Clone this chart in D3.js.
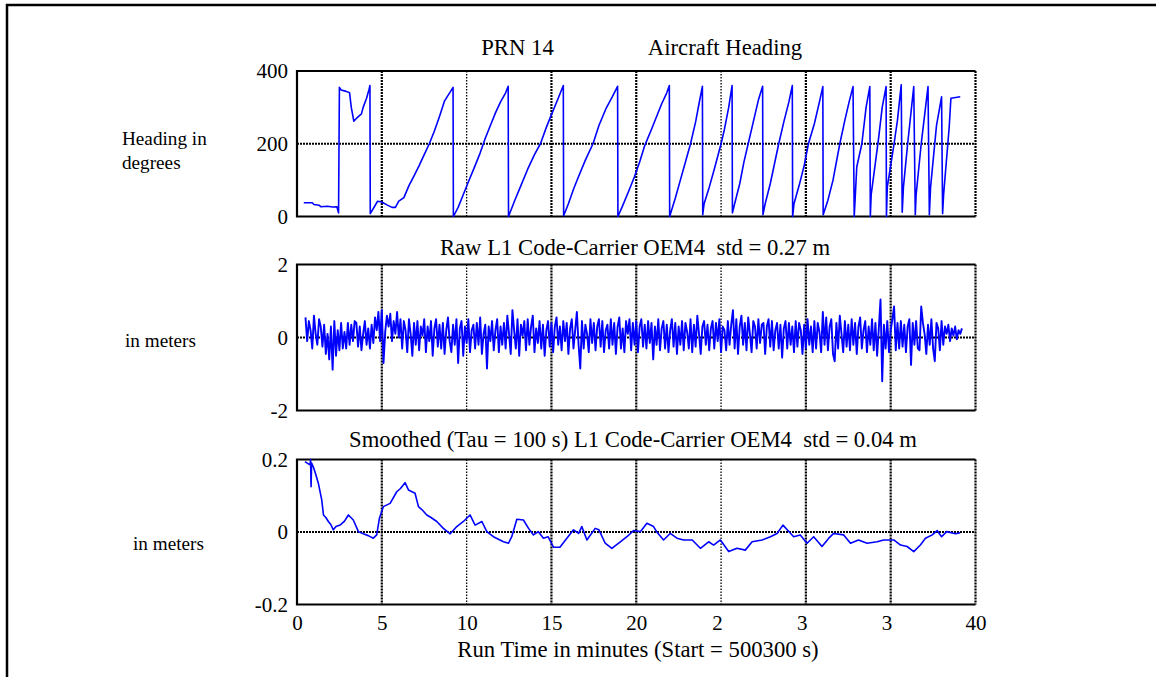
<!DOCTYPE html>
<html>
<head>
<meta charset="utf-8">
<script src="https://cdn.jsdelivr.net/npm/d3@7"></script>
<style>
body{margin:0;background:#fff;}
text{font-family:"Liberation Serif","Times New Roman",serif;font-size:21px;fill:#000;}
text.title{font-size:22.7px;}
text.side{font-size:19.2px;}
</style>
</head>
<body>
<svg id="chart" width="1156" height="677"></svg>
<script>
// x axis, run time in minutes
var xTicks = [0, 5, 10, 15, 20, 25, 30, 35, 40];
var xTickLabels = ["0", "5", "10", "15", "20", "2", "3", "3", "40"];
var faintGrid = [10, 25];

// y ticks of the three panels
var headingTicks = [0, 200, 400];
var headingTickLabels = ["0", "200", "400"];
var rawTicks = [-2, 0, 2];
var rawTickLabels = ["-2", "0", "2"];
var smoothTicks = [-0.2, 0, 0.2];
var smoothTickLabels = ["-0.2", "0", "0.2"];

// aircraft heading, [minutes, degrees]
var headingPts = [
 [0.4,38],[0.9,38],[1.0,33],[1.3,31],[1.4,27],[1.8,28],[2.1,26],[2.35,27],[2.45,10],[2.5,355],
 [2.6,348],[2.9,344],[3.1,340],[3.2,300],[3.35,262],[3.55,272],[3.8,282],[3.9,300],[4.1,325],[4.25,350],
 [4.3,360],[4.32,8],[4.5,22],[4.75,42],[5.0,40],[5.3,32],[5.6,25],[5.8,25],[6.0,42],[6.3,52],
 [6.6,85],[6.9,112],[7.2,140],[7.5,170],[7.8,200],[8.1,235],[8.4,275],[8.7,318],[9.0,340],[9.2,355],
 [9.22,0],[9.5,25],[9.8,60],[10.1,95],[10.5,140],[10.8,175],[11.1,215],[11.4,250],[11.7,285],[12.0,315],
 [12.3,340],[12.45,358],[12.47,0],[12.8,40],[13.2,85],[13.6,130],[14.0,170],[14.35,200],[14.7,245],[15.0,280],
 [15.4,325],[15.7,360],[15.72,2],[16.0,35],[16.3,75],[16.6,110],[17.0,155],[17.45,200],[17.8,250],[18.2,295],
 [18.6,330],[18.9,358],[18.92,0],[19.2,30],[19.6,75],[19.9,110],[20.2,150],[20.5,195],[20.9,240],[21.2,275],
 [21.5,310],[21.8,340],[21.95,360],[21.97,0],[22.3,50],[22.6,100],[22.9,150],[23.2,200],[23.5,260],[23.7,310],
 [23.9,358],[23.92,5],[24.0,35],[24.3,80],[24.6,130],[25.0,200],[25.2,240],[25.45,300],[25.65,360],[25.67,10],
 [25.8,35],[26.1,90],[26.35,150],[26.6,200],[26.9,260],[27.2,320],[27.45,358],[27.47,5],[27.6,35],[27.9,90],
 [28.15,145],[28.4,200],[28.7,260],[29.0,315],[29.2,360],[29.22,0],[29.3,35],[29.6,85],[29.9,140],[30.15,200],
 [30.5,255],[30.8,315],[31.0,357],[31.02,5],[31.3,45],[31.6,100],[32.0,200],[32.3,265],[32.55,315],[32.78,357],
 [32.85,0],[32.9,45],[33.0,136],[33.3,200],[33.55,300],[33.77,357],[33.8,0],[33.85,60],[34.1,148],[34.3,220],
 [34.5,300],[34.73,357],[34.75,0],[34.8,81],[35.2,200],[35.4,265],[35.62,362],[35.68,12],[35.75,80],[36.0,200],
 [36.36,357],[36.45,5],[36.5,60],[36.8,200],[37.2,357],[37.28,5],[37.35,80],[37.7,250],[38.0,329],[38.06,8],
 [38.12,60],[38.45,246],[38.55,325],[39.1,329]
];

// raw L1 code-carrier in meters, one sample every 0.1 min from 0.5 min
var rawStart = 0.5, rawStep = 0.1;
var rawVals = [
 0.55,-0.1,0.45,0.2,-0.3,0.6,0.1,-0.2,0.5,0.3,
 -0.25,0.35,-0.45,0.1,-0.6,0.3,-0.88,0.45,-0.5,0.2,
 -0.35,0.4,-0.3,0.15,-0.3,0.4,-0.2,0.35,-0.1,0.45,
 0.4,-0.25,0.3,-0.35,0.1,0.45,-0.2,0.25,-0.3,0.35,
 -0.15,0.55,0.2,0.7,-0.1,0.75,-0.7,0.15,0.6,0.3,
 0.65,-0.1,0.45,0.1,0.7,0.0,0.5,-0.3,0.45,0.2,
 -0.4,0.5,0.1,-0.5,0.4,-0.2,0.45,-0.35,0.3,0.05,
 0.5,-0.4,0.3,-0.1,0.45,-0.5,0.25,0.5,-0.25,0.35,
 -0.3,0.4,-0.45,0.2,0.55,-0.1,-0.4,0.35,-0.2,0.5,
 -0.7,0.25,0.45,-0.5,0.3,-0.15,0.5,-0.4,0.2,0.35,
 -0.3,0.4,-0.2,0.55,-0.45,0.1,0.35,-0.85,0.3,-0.1,
 0.45,-0.35,0.2,0.5,-0.4,0.3,-0.2,0.4,-0.3,0.6,
 0.1,-0.45,0.75,0.2,-0.3,0.5,-0.5,0.35,0.05,0.45,
 -0.35,0.5,-0.2,0.3,0.6,-0.4,0.25,-0.15,0.45,-0.3,
 0.35,-0.5,0.2,0.45,-0.25,0.4,-0.4,0.3,0.55,-0.2,
 0.3,-0.35,0.45,-0.1,0.4,-0.45,0.25,0.5,-0.3,0.2,
 0.7,-0.2,-0.85,0.45,-0.3,0.35,0.1,-0.4,0.5,-0.15,
 0.4,-0.35,0.3,0.5,-0.25,0.45,-0.4,0.2,0.35,-0.3,
 0.5,-0.2,0.4,-0.45,0.3,0.55,-0.3,0.25,-0.4,0.45,
 0.1,0.5,-0.35,0.4,-0.2,0.45,-0.4,0.3,0.5,-0.25,
 0.35,-0.3,0.45,-0.15,0.4,-0.6,0.3,-0.2,0.5,-0.35,
 0.25,0.45,-0.3,0.35,-0.4,0.2,0.5,-0.25,0.4,-0.45,
 0.3,-0.2,0.45,-0.35,0.4,0.15,-0.3,0.5,-0.4,0.35,
 -0.25,0.6,0.1,-0.45,0.3,0.45,-0.2,0.35,-0.35,0.25,
 0.45,-0.3,0.4,-0.1,0.5,-0.4,0.3,0.2,-0.35,0.45,
 -0.2,0.35,0.75,-0.3,0.5,-0.45,0.3,0.6,-0.2,0.4,
 -0.35,0.55,0.1,-0.4,0.45,0.3,-0.3,0.5,-0.15,0.35,
 0.4,-0.45,0.3,0.5,-0.25,0.45,-0.35,0.2,0.4,-0.3,
 0.35,-0.55,0.25,0.45,-0.3,0.4,-0.2,0.3,-0.4,0.45,
 -0.25,0.4,0.2,-0.45,0.35,-0.3,0.5,-0.2,0.3,-0.4,
 0.45,-0.3,0.4,0.15,-0.4,0.7,-0.2,0.55,-0.35,0.3,
 0.5,-0.45,-0.65,0.4,-0.3,0.6,0.1,-0.4,0.45,-0.25,
 0.35,-0.35,0.5,-0.2,0.4,-0.45,0.3,0.55,-0.3,0.2,
 0.45,-0.4,0.3,-0.2,0.5,-0.35,0.4,-0.5,0.25,1.04,
 -1.2,0.35,-0.3,0.45,-0.4,0.2,0.5,0.85,-0.35,0.4,
 -0.3,0.45,-0.25,0.35,-0.4,0.3,0.5,-0.75,0.4,-0.2,
 0.45,-0.3,-0.35,0.85,0.4,0.1,-0.45,0.35,-0.2,0.5,
 -0.3,-0.65,0.4,0.25,-0.35,0.45,-0.2,0.3,0.1,0.35,
 -0.1,0.25,0.05,0.3,-0.05,0.2,0.1,0.25
];

// smoothed (tau = 100 s) code-carrier, [minutes, meters]
var smoothPts = [
 [0.47,0.194],[0.6,0.19],[0.77,0.185],[0.8,0.2],[0.83,0.125],[0.86,0.19],[0.96,0.18],[1.1,0.16],[1.26,0.134],[1.46,0.088],
 [1.56,0.047],[1.7,0.04],[1.85,0.029],[2.0,0.02],[2.14,0.006],[2.3,0.015],[2.54,0.019],[2.8,0.03],[3.03,0.047],[3.32,0.033],
 [3.62,0.001],[3.91,-0.005],[4.2,-0.01],[4.5,-0.017],[4.7,-0.008],[4.86,0.038],[5.09,0.07],[5.49,0.079],[5.88,0.111],[6.1,0.12],
 [6.37,0.136],[6.57,0.116],[6.96,0.107],[7.16,0.07],[7.4,0.06],[7.65,0.047],[7.9,0.04],[8.24,0.029],[8.63,0.01],[9.03,-0.005],
 [9.42,0.015],[9.81,0.029],[10.2,0.047],[10.5,0.019],[10.9,0.029],[11.19,0.001],[11.58,-0.013],[12.17,-0.027],[12.47,-0.031],[12.66,-0.013],
 [12.96,0.035],[13.35,0.033],[13.65,0.01],[13.94,-0.008],[14.23,0.001],[14.53,-0.017],[14.8,-0.013],[15.12,-0.042],[15.5,-0.042],[15.91,-0.017],
 [16.3,0.006],[16.6,-0.004],[16.79,0.015],[17.09,-0.022],[17.58,0.01],[17.8,0.006],[18.17,-0.031],[18.56,-0.045],[19.06,-0.027],[19.45,-0.013],
 [19.84,0.004],[20.24,0.001],[20.63,0.024],[21.02,0.015],[21.2,0.001],[21.61,-0.022],[22.0,-0.004],[22.4,-0.017],[22.79,-0.022],[23.3,-0.022],
 [23.78,-0.045],[24.27,-0.027],[24.56,-0.036],[24.96,-0.022],[25.45,-0.054],[25.94,-0.045],[26.43,-0.05],[26.83,-0.027],[27.42,-0.022],[27.91,-0.013],
 [28.3,-0.004],[28.65,0.019],[28.9,0.006],[29.28,-0.013],[29.67,-0.008],[30.07,-0.031],[30.46,-0.013],[30.95,-0.04],[31.35,-0.017],[31.64,-0.004],
 [32.23,-0.008],[32.63,-0.031],[33.1,-0.022],[33.61,-0.031],[34.2,-0.027],[34.59,-0.022],[35.18,-0.022],[35.58,-0.036],[35.97,-0.04],[36.36,-0.054],
 [36.75,-0.036],[37.05,-0.017],[37.45,-0.008],[37.74,0.004],[38.0,-0.013],[38.3,0.001],[38.82,-0.005],[39.1,-0.002]
];

var rawPts = rawVals.map((v, i) => [rawStart + i * rawStep, v]);

var svg = d3.select("#chart");
svg.append("rect").attr("width", 1156).attr("height", 677).attr("fill", "#fff");

// outer frame (left and top edges only are inside the picture)
svg.append("path")
  .attr("d", "M7,677 L7,5 L1156,5")
  .attr("fill", "none")
  .attr("stroke", "#000")
  .attr("stroke-width", 2.5);

var left = 297, right = 975.5;
var xScale = d3.scaleLinear().domain([0, 40]).range([left, right]);

//panel layout
var panels = [
  {top: 71, bottom: 216.5, domain: [0, 400], ticks: headingTicks, labels: headingTickLabels, grid: 200, data: headingPts, lw: 1.6},
  {top: 264.5, bottom: 410.5, domain: [-2, 2], ticks: rawTicks, labels: rawTickLabels, grid: 0, data: rawPts, lw: 1.9},
  {top: 459.5, bottom: 604.5, domain: [-0.2, 0.2], ticks: smoothTicks, labels: smoothTickLabels, grid: 0, data: smoothPts, lw: 1.6}
];

panels.forEach((p, idx) => {
  var yScale = d3.scaleLinear().domain(p.domain).range([p.bottom, p.top]);
  var g = svg.append("g");

  // vertical grid lines
  g.selectAll(".vgrid")
    .data(xTicks.filter(t => t > 0))
    .enter()
    .append("line")
    .attr("x1", d => xScale(d))
    .attr("x2", d => xScale(d))
    .attr("y1", p.top)
    .attr("y2", p.bottom)
    .attr("stroke", "#000")
    .attr("stroke-width", d => faintGrid.indexOf(d) >= 0 ? 1.3 : 2.2)
    .attr("stroke-dasharray", d => faintGrid.indexOf(d) >= 0 ? "1.5,1.5" : "2,1");

  // horizontal grid line
  g.append("line")
    .attr("x1", left).attr("x2", right)
    .attr("y1", yScale(p.grid)).attr("y2", yScale(p.grid))
    .attr("stroke", "#000")
    .attr("stroke-width", 2.2)
    .attr("stroke-dasharray", "2,1");

  // box: top, left, bottom solid
  g.append("path")
    .attr("d", "M" + right + "," + p.top + " L" + left + "," + p.top + " L" + left + "," + p.bottom + " L" + right + "," + p.bottom)
    .attr("fill", "none")
    .attr("stroke", "#000")
    .attr("stroke-width", 2.2);

  // the data line
  var line = d3.line().x(d => xScale(d[0])).y(d => yScale(d[1]));
  g.append("path")
    .datum(p.data)
    .attr("d", line)
    .attr("fill", "none")
    .attr("stroke", "#0000ff")
    .attr("stroke-width", p.lw)
    .attr("stroke-linejoin", "round");

  // y axis labels
  var yAxis = d3.axisLeft(yScale).tickValues(p.ticks).tickFormat((d, i) => p.labels[i]).tickSize(0).tickPadding(9);
  var ya = g.append("g").attr("transform", "translate(" + left + ",0)").call(yAxis);
  ya.select(".domain").remove();
  ya.attr("font-size", null).attr("font-family", null);

  // x axis labels only under the last panel
  if (idx == 2) {
    var xAxis = d3.axisBottom(xScale).tickValues(xTicks).tickFormat((d, i) => xTickLabels[i]).tickSize(0).tickPadding(10.5);
    var xa = g.append("g").attr("transform", "translate(0," + p.bottom + ")").call(xAxis);
    xa.select(".domain").remove();
    xa.attr("font-size", null).attr("font-family", null);
    // clipped labels sit to the left of their tick
    xa.selectAll("text")
      .attr("text-anchor", (d, i) => xTickLabels[i].length < String(d).length ? "end" : "middle")
      .attr("dx", (d, i) => xTickLabels[i].length < String(d).length ? "0.05em" : 0);
  }
});

// titles and labels
var labels = [
  {t: "PRN 14", x: 517.5, y: 55, a: "middle", c: "title"},
  {t: "Aircraft Heading", x: 725, y: 55, a: "middle", c: "title"},
  {t: "Raw L1 Code-Carrier OEM4\u00a0 std = 0.27 m", x: 635, y: 255, a: "middle", c: "title"},
  {t: "Smoothed (Tau = 100 s) L1 Code-Carrier OEM4\u00a0 std = 0.04 m", x: 633, y: 447, a: "middle", c: "title"},
  {t: "Run Time in minutes (Start = 500300 s)", x: 638, y: 657, a: "middle", c: "title"},
  {t: "Heading in", x: 122, y: 145, a: "start", c: "side"},
  {t: "degrees", x: 122, y: 169, a: "start", c: "side"},
  {t: "in meters", x: 125, y: 347, a: "start", c: "side"},
  {t: "in meters", x: 133, y: 550, a: "start", c: "side"}
];
svg.selectAll(".lbl")
  .data(labels)
  .enter()
  .append("text")
  .attr("class", d => d.c)
  .attr("x", d => d.x)
  .attr("y", d => d.y)
  .attr("text-anchor", d => d.a)
  .text(d => d.t);
</script>
</body>
</html>
